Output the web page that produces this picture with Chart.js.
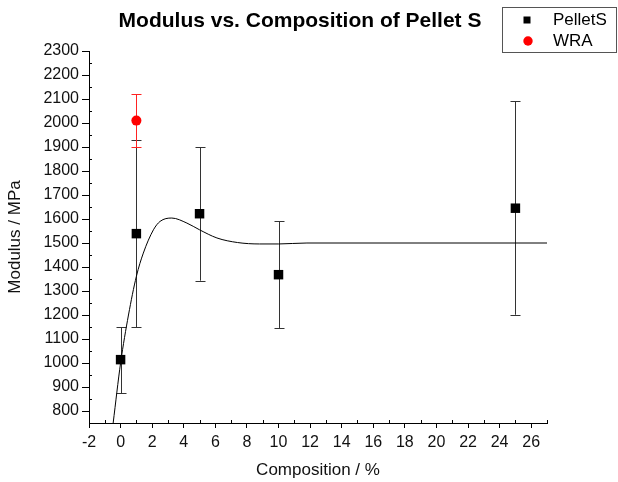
<!DOCTYPE html>
<html>
<head>
<meta charset="utf-8">
<script src="https://cdn.jsdelivr.net/npm/chart.js@4"></script>
<style>
  body { margin: 0; background: #fff; }
</style>
</head>
<body>
<canvas id="chartModulus" width="618" height="482"></canvas>
<script>
// donnees
const pelletX = [0, 1, 5, 10, 25];
const pelletY = [1014, 1539, 1622, 1368, 1645];
const pelletLow = [875, 1148, 1343, 1146, 1201];
const pelletHigh = [1148, 1930, 1900, 1590, 2090];

const wraX = [1];
const wraY = [2010];
const wraLow = [1900];
const wraHigh = [2119];

// courbe d'ajustement (points releves)
const fitX = [-0.47, 0, 0.5, 1, 1.44, 2.08, 2.5, 3.24, 4.2, 5, 6.1, 7.4, 8.8, 10, 11.8, 27];
const fitY = [750, 1000, 1200, 1361, 1458, 1555, 1590, 1604, 1583, 1555, 1521, 1502, 1496, 1496, 1500, 1500];

const xTicks = [-2, 0, 2, 4, 6, 8, 10, 12, 14, 16, 18, 20, 22, 24, 26];
const xMinor = [-1, 1, 3, 5, 7, 9, 11, 13, 15, 17, 19, 21, 23, 25, 27];
const yTicks = [800, 900, 1000, 1100, 1200, 1300, 1400, 1500, 1600, 1700, 1800, 1900, 2000, 2100, 2200, 2300];
const yMinor = [850, 950, 1050, 1150, 1250, 1350, 1450, 1550, 1650, 1750, 1850, 1950, 2050, 2150, 2250];

const FONT = "'Liberation Sans', Arial, sans-serif";

function toPoints(xs, ys) {
  return xs.map((x, i) => ({ x: x, y: ys[i] }));
}

const errorBars = {
  id: 'errorBars',
  beforeDatasetsDraw(chart) {
    const ctx = chart.ctx;
    const sx = chart.scales.x, sy = chart.scales.y;
    const sets = [
      { xs: pelletX, lo: pelletLow, hi: pelletHigh, color: '#333' },
      { xs: wraX, lo: wraLow, hi: wraHigh, color: '#f22' }
    ];
    ctx.save();
    ctx.lineWidth = 1;
    sets.forEach(s => {
      ctx.strokeStyle = s.color;
      s.xs.forEach((x, i) => {
        const px = Math.round(sx.getPixelForValue(x)) + 0.5;
        const p1 = sy.getPixelForValue(s.lo[i]);
        const p2 = sy.getPixelForValue(s.hi[i]);
        ctx.beginPath();
        ctx.moveTo(px, p1); ctx.lineTo(px, p2);
        ctx.moveTo(px - 5, Math.round(p1) + 0.5); ctx.lineTo(px + 5, Math.round(p1) + 0.5);
        ctx.moveTo(px - 5, Math.round(p2) + 0.5); ctx.lineTo(px + 5, Math.round(p2) + 0.5);
        ctx.stroke();
      });
    });
    ctx.restore();
  }
};

const minorTicks = {
  id: 'minorTicks',
  afterDraw(chart) {
    const ctx = chart.ctx;
    const sx = chart.scales.x, sy = chart.scales.y;
    const a = chart.chartArea;
    ctx.save();
    ctx.strokeStyle = '#000';
    ctx.lineWidth = 1;
    ctx.beginPath();
    xMinor.forEach(v => {
      const px = Math.round(sx.getPixelForValue(v)) + 0.5;
      ctx.moveTo(px, a.bottom); ctx.lineTo(px, a.bottom - 3);
    });
    yMinor.forEach(v => {
      const py = Math.round(sy.getPixelForValue(v)) + 0.5;
      ctx.moveTo(a.left, py); ctx.lineTo(a.left + 3, py);
    });
    ctx.stroke();
    ctx.restore();
  }
};

// legende encadree en haut a droite
const boxLegend = {
  id: 'boxLegend',
  afterDraw(chart) {
    const ctx = chart.ctx;
    ctx.save();
    ctx.strokeStyle = '#555';
    ctx.lineWidth = 1;
    ctx.strokeRect(502.5, 7.5, 114, 45);
    ctx.fillStyle = '#000';
    ctx.fillRect(523.5, 16.5, 7, 7);
    ctx.fillStyle = '#f00';
    ctx.beginPath();
    ctx.arc(528, 41, 4.7, 0, Math.PI * 2);
    ctx.fill();
    ctx.fillStyle = '#000';
    ctx.font = '17px ' + FONT;
    ctx.textBaseline = 'middle';
    ctx.fillText('PelletS', 553, 20);
    ctx.fillText('WRA', 553, 41);
    ctx.restore();
  }
};

document.addEventListener('DOMContentLoaded', function () {
  new Chart(document.getElementById('chartModulus'), {
    type: 'scatter',
    data: {
      datasets: [{
        label: 'PelletS',
        data: toPoints(pelletX, pelletY),
        pointStyle: 'rect',
        pointRadius: 6.7,
        pointHoverRadius: 6.7,
        backgroundColor: '#000',
        borderColor: '#000',
        borderWidth: 0
      }, {
        label: 'WRA',
        data: toPoints(wraX, wraY),
        pointStyle: 'circle',
        pointRadius: 5,
        backgroundColor: '#f00',
        borderColor: '#f00',
        borderWidth: 0
      }, {
        label: 'Fit',
        data: toPoints(fitX, fitY),
        showLine: true,
        pointRadius: 0,
        borderColor: '#000',
        borderWidth: 1,
        cubicInterpolationMode: 'monotone'
      }]
    },
    options: {
      responsive: false,
      animation: false,
      devicePixelRatio: 1,
      layout: { padding: { left: 0, right: 18, top: 0, bottom: 0 } },
      plugins: {
        legend: { display: false },
        tooltip: { enabled: false },
        title: {
          display: true,
          text: 'Modulus vs. Composition of Pellet S',
          color: '#000',
          font: { family: FONT, size: 21, weight: 'bold', lineHeight: 1.2 },
          padding: { top: 8.4, bottom: 17.4 }
        }
      },
      scales: {
        x: {
          type: 'linear',
          min: -2,
          max: 27,
          afterBuildTicks: s => { s.ticks = xTicks.map(v => ({ value: v })); },
          afterFit: s => { s.height = 59; },
          grid: { drawOnChartArea: false, drawTicks: true, tickLength: 5, color: '#000', lineWidth: 1 },
          border: { display: true, color: '#000', width: 1 },
          ticks: { color: '#111', font: { family: FONT, size: 16 }, padding: 5, maxRotation: 0, callback: v => String(v) },
          title: {
            display: true,
            text: 'Composition / %',
            color: '#111',
            font: { family: FONT, size: 17, lineHeight: 1.2 },
            padding: { top: 0, bottom: 1 }
          }
        },
        y: {
          type: 'linear',
          min: 750,
          max: 2300,
          afterBuildTicks: s => { s.ticks = yTicks.map(v => ({ value: v })); },
          afterFit: s => { s.width = 89; },
          grid: { drawOnChartArea: false, drawTicks: true, tickLength: 7, color: '#000', lineWidth: 1 },
          border: { display: true, color: '#000', width: 1 },
          ticks: { color: '#111', font: { family: FONT, size: 16 }, padding: 3, callback: v => String(v) },
          title: {
            display: true,
            text: 'Modulus / MPa',
            color: '#111',
            font: { family: FONT, size: 17, lineHeight: 1.2 },
            padding: { top: 5, bottom: 0 }
          }
        },
        yRight: {
          position: 'right',
          display: true,
          afterFit: s => { s.width = 53; },
          grid: { display: false },
          border: { display: false },
          ticks: { display: false }
        }
      }
    },
    plugins: [errorBars, minorTicks, boxLegend]
  });
});
</script>
</body>
</html>
